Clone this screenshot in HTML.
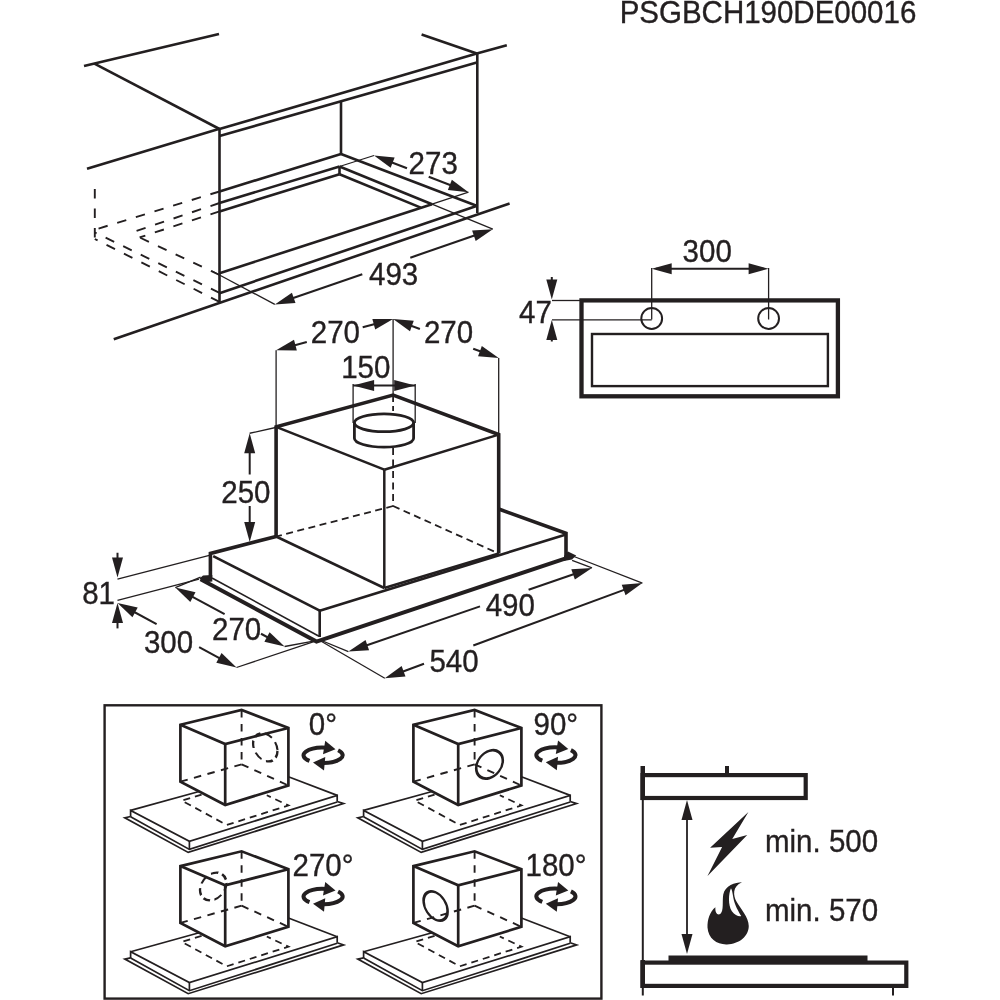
<!DOCTYPE html>
<html><head><meta charset="utf-8"><style>
html,body{margin:0;padding:0;background:#fff;}
svg{display:block;will-change:transform;}
text{font-family:"Liberation Sans",sans-serif;fill:#231f20;stroke:#231f20;stroke-width:0.35px;}
</style></head><body>
<svg width="1000" height="1000" viewBox="0 0 1000 1000" stroke="#231f20" fill="none">
<line x1="84" y1="66" x2="219" y2="34" stroke-width="2.6" stroke-linecap="butt"/>
<line x1="94.4" y1="63.6" x2="219.5" y2="129" stroke-width="2.6" stroke-linecap="butt"/>
<line x1="87" y1="168.75" x2="219.5" y2="128.75" stroke-width="2.6" stroke-linecap="butt"/>
<line x1="219.5" y1="128" x2="219.5" y2="302.5" stroke-width="2.6" stroke-linecap="butt"/>
<line x1="219.5" y1="129" x2="476.8" y2="53.6" stroke-width="2.6" stroke-linecap="butt"/>
<line x1="219.5" y1="136" x2="476.8" y2="62.5" stroke-width="2.6" stroke-linecap="butt"/>
<line x1="421.6" y1="34.4" x2="476.8" y2="53.6" stroke-width="2.6" stroke-linecap="butt"/>
<line x1="476.8" y1="53.6" x2="506.8" y2="45.2" stroke-width="2.6" stroke-linecap="butt"/>
<line x1="477.3" y1="53" x2="477.3" y2="213" stroke-width="2.6" stroke-linecap="butt"/>
<line x1="341" y1="101.5" x2="341" y2="154" stroke-width="2.6" stroke-linecap="butt"/>
<line x1="219.5" y1="191.5" x2="341" y2="154" stroke-width="2.6" stroke-linecap="butt"/>
<line x1="341" y1="154" x2="476.5" y2="205.8" stroke-width="2.6" stroke-linecap="butt"/>
<line x1="219.5" y1="203" x2="339.5" y2="166.5" stroke-width="2.6" stroke-linecap="butt"/>
<line x1="219.5" y1="211.4" x2="339.5" y2="174.3" stroke-width="2.6" stroke-linecap="butt"/>
<line x1="339.5" y1="166.5" x2="339.5" y2="174.3" stroke-width="2.6" stroke-linecap="butt"/>
<line x1="339.5" y1="166.5" x2="432" y2="204.2" stroke-width="2.6" stroke-linecap="butt"/>
<line x1="339.5" y1="174.3" x2="420.8" y2="207.6" stroke-width="2.6" stroke-linecap="butt"/>
<line x1="219.5" y1="273.2" x2="432" y2="204.2" stroke-width="2.6" stroke-linecap="butt"/>
<line x1="219.5" y1="293.2" x2="476.5" y2="206" stroke-width="2.6" stroke-linecap="butt"/>
<line x1="113.75" y1="339.25" x2="509.6" y2="203.4" stroke-width="2.6" stroke-linecap="butt"/>
<line x1="94.8" y1="189" x2="94.8" y2="239" stroke-width="1.9" stroke-dasharray="9.5 10" stroke-linecap="butt"/>
<line x1="219.5" y1="191.5" x2="94.8" y2="229.7" stroke-width="1.9" stroke-dasharray="9.5 10" stroke-linecap="butt"/>
<line x1="219.5" y1="203" x2="129.8" y2="233.2" stroke-width="1.9" stroke-dasharray="9.5 10" stroke-linecap="butt"/>
<line x1="219.5" y1="211.4" x2="139.6" y2="237.4" stroke-width="1.9" stroke-dasharray="9.5 10" stroke-linecap="butt"/>
<line x1="219.5" y1="275" x2="139.6" y2="237.4" stroke-width="1.9" stroke-dasharray="9.5 10" stroke-linecap="butt"/>
<line x1="219.5" y1="292.8" x2="94.8" y2="232.5" stroke-width="1.9" stroke-dasharray="9.5 10" stroke-linecap="butt"/>
<line x1="219.5" y1="301.8" x2="94.8" y2="239" stroke-width="1.9" stroke-dasharray="9.5 10" stroke-linecap="butt"/>
<line x1="339.5" y1="166.5" x2="374" y2="155.5" stroke-width="1.3" stroke-linecap="butt"/>
<line x1="432" y1="204.2" x2="468.5" y2="192.2" stroke-width="1.3" stroke-linecap="butt"/>
<polygon points="374,155.5 394.63,157.61 390.65,167.87" fill="#231f20" stroke="none"/>
<polygon points="468.5,192.2 447.87,190.09 451.85,179.83" fill="#231f20" stroke="none"/>
<line x1="381.46" y1="158.4" x2="407" y2="168.32" stroke-width="2.1" stroke-linecap="butt"/>
<line x1="428.7" y1="176.74" x2="461.04" y2="189.3" stroke-width="2.1" stroke-linecap="butt"/>
<text transform="translate(433.2,173.5) scale(1,1.06)" font-size="29.5" text-anchor="middle">273</text>
<line x1="212" y1="271" x2="274.8" y2="304.4" stroke-width="1.3" stroke-linecap="butt"/>
<line x1="432" y1="204.2" x2="492.8" y2="229.2" stroke-width="1.3" stroke-linecap="butt"/>
<polygon points="274.8,304.4 291.91,292.68 295.5,303.08" fill="#231f20" stroke="none"/>
<polygon points="492.8,229.2 475.69,240.92 472.1,230.52" fill="#231f20" stroke="none"/>
<line x1="282.36" y1="301.79" x2="362.3" y2="274.22" stroke-width="2.1" stroke-linecap="butt"/>
<line x1="410.3" y1="257.66" x2="485.24" y2="231.81" stroke-width="2.1" stroke-linecap="butt"/>
<text transform="translate(393.6,285.2) scale(1,1.06)" font-size="29.5" text-anchor="middle">493</text>
<polyline points="276.1,536.5 276.1,426.8 393.1,395.1 498.7,434.6 498.7,553.5" fill="none" stroke-width="3.6" stroke-linejoin="miter"/>
<line x1="276.1" y1="426.8" x2="384.3" y2="469.7" stroke-width="2.5" stroke-linecap="butt"/>
<line x1="384.3" y1="469.7" x2="498.7" y2="434.6" stroke-width="2.5" stroke-linecap="butt"/>
<line x1="384.3" y1="469.7" x2="384.3" y2="588" stroke-width="2.5" stroke-linecap="butt"/>
<line x1="276.1" y1="536.5" x2="384.3" y2="588" stroke-width="2.5" stroke-linecap="butt"/>
<line x1="384.3" y1="588" x2="498.7" y2="553.5" stroke-width="2.5" stroke-linecap="butt"/>
<line x1="393.1" y1="448" x2="393.1" y2="506" stroke-width="1.8" stroke-dasharray="7 4.5" stroke-linecap="butt"/>
<line x1="393.1" y1="506" x2="276.1" y2="536.5" stroke-width="1.8" stroke-dasharray="7 4.5" stroke-linecap="butt"/>
<line x1="393.1" y1="506" x2="498.7" y2="553.5" stroke-width="1.8" stroke-dasharray="7 4.5" stroke-linecap="butt"/>
<line x1="393.1" y1="397" x2="393.1" y2="412" stroke-width="1.8" stroke-dasharray="5 4" stroke-linecap="butt"/>
<ellipse cx="384" cy="422.8" rx="29.6" ry="8.9" fill="none" stroke-width="2.8"/>
<path d="M354.4 422.8 V438.2 A29.6 8.9 0 0 0 413.6 438.2 V422.8" fill="none" stroke-width="2.8"/>
<line x1="353.1" y1="384" x2="353.1" y2="423" stroke-width="1.3" stroke-linecap="butt"/>
<line x1="415.2" y1="384" x2="415.2" y2="423" stroke-width="1.3" stroke-linecap="butt"/>
<line x1="353.1" y1="385.4" x2="415.2" y2="385.4" stroke-width="2" stroke-linecap="butt"/>
<polygon points="353.1,385.4 374.1,379.9 374.1,390.9" fill="#231f20" stroke="none"/>
<polygon points="415.2,385.4 394.2,390.9 394.2,379.9" fill="#231f20" stroke="none"/>
<text transform="translate(365.8,377.6) scale(1,1.06)" font-size="29.5" text-anchor="middle">150</text>
<line x1="393.1" y1="319" x2="393.1" y2="395" stroke-width="1.3" stroke-linecap="butt"/>
<line x1="276.1" y1="350.3" x2="276.1" y2="426.8" stroke-width="1.3" stroke-linecap="butt"/>
<line x1="498.7" y1="358.1" x2="498.7" y2="434.6" stroke-width="1.3" stroke-linecap="butt"/>
<polygon points="276.1,350.3 294.01,339.83 296.84,350.46" fill="#231f20" stroke="none"/>
<polygon points="393.1,319.1 375.19,329.57 372.36,318.94" fill="#231f20" stroke="none"/>
<line x1="283.83" y1="348.24" x2="306.8" y2="342.11" stroke-width="2.1" stroke-linecap="butt"/>
<line x1="362.7" y1="327.21" x2="385.37" y2="321.16" stroke-width="2.1" stroke-linecap="butt"/>
<text transform="translate(335.4,342.5) scale(1,1.06)" font-size="29.5" text-anchor="middle">270</text>
<polygon points="393.1,319.1 413.77,320.87 409.96,331.19" fill="#231f20" stroke="none"/>
<polygon points="498.7,358.1 478.03,356.33 481.84,346.01" fill="#231f20" stroke="none"/>
<line x1="400.6" y1="321.87" x2="419.9" y2="329" stroke-width="2.1" stroke-linecap="butt"/>
<line x1="473.2" y1="348.68" x2="491.2" y2="355.33" stroke-width="2.1" stroke-linecap="butt"/>
<text transform="translate(448.5,342.5) scale(1,1.06)" font-size="29.5" text-anchor="middle">270</text>
<line x1="249.7" y1="433.25" x2="276.7" y2="427.25" stroke-width="1.3" stroke-linecap="butt"/>
<polygon points="249.7,433.25 255.2,453.25 244.2,453.25" fill="#231f20" stroke="none"/>
<polygon points="249.7,542 244.2,522 255.2,522" fill="#231f20" stroke="none"/>
<line x1="249.7" y1="450" x2="249.7" y2="474.5" stroke-width="2" stroke-linecap="butt"/>
<line x1="249.7" y1="506" x2="249.7" y2="525" stroke-width="2" stroke-linecap="butt"/>
<text transform="translate(245.9,503.2) scale(1,1.06)" font-size="29.5" text-anchor="middle">250</text>
<polyline points="276.1,536.5 210.4,553.4 210.4,577.2" fill="none" stroke-width="3.6" stroke-linejoin="miter"/>
<polyline points="498.7,509 566,533.2 566,557" fill="none" stroke-width="3.6" stroke-linejoin="miter"/>
<polyline points="200.6,579.3 316.5,641.6 565,558.6" fill="none" stroke-width="4" stroke-linejoin="miter"/>
<polygon points="199.5,578.5 203,575.5 212.3,575 212.3,581.5 204,582.5" fill="#231f20" stroke="none"/>
<polygon points="564,556 568,551.4 576.2,555.6 572,559.5 564,561" fill="#231f20" stroke="none"/>
<line x1="213.2" y1="556.2" x2="319.7" y2="610.65" stroke-width="2.6" stroke-linecap="butt"/>
<line x1="319.7" y1="609.5" x2="319.7" y2="637" stroke-width="2.6" stroke-linecap="butt"/>
<line x1="319.7" y1="610.65" x2="566" y2="534.5" stroke-width="2.6" stroke-linecap="butt"/>
<line x1="212" y1="578" x2="319" y2="636.2" stroke-width="1.6" stroke-linecap="butt"/>
<polygon points="117.5,577.4 112,557.4 123,557.4" fill="#231f20" stroke="none"/>
<line x1="117.5" y1="552.75" x2="117.5" y2="560" stroke-width="2" stroke-linecap="butt"/>
<polygon points="117.5,602.9 123,622.9 112,622.9" fill="#231f20" stroke="none"/>
<line x1="117.5" y1="620" x2="117.5" y2="628.4" stroke-width="2" stroke-linecap="butt"/>
<line x1="117.5" y1="579.1" x2="209.3" y2="555.3" stroke-width="1.3" stroke-linecap="butt"/>
<line x1="117.5" y1="600.4" x2="199.1" y2="579.1" stroke-width="1.3" stroke-linecap="butt"/>
<text transform="translate(98.6,603.75) scale(1,1.06)" font-size="29.5" text-anchor="middle">81</text>
<polygon points="117.5,602.9 137.7,607.61 132.45,617.28" fill="#231f20" stroke="none"/>
<line x1="124.53" y1="606.72" x2="156.6" y2="624.13" stroke-width="2.1" stroke-linecap="butt"/>
<line x1="199.1" y1="647.2" x2="229.47" y2="663.68" stroke-width="2.1" stroke-linecap="butt"/>
<text transform="translate(168.5,653.4) scale(1,1.06)" font-size="29.5" text-anchor="middle">300</text>
<polygon points="236.5,667.5 216.3,662.79 221.55,653.12" fill="#231f20" stroke="none"/>
<line x1="236.5" y1="667.5" x2="317.6" y2="640.4" stroke-width="1.3" stroke-linecap="butt"/>
<line x1="175.3" y1="587.6" x2="200.6" y2="577.2" stroke-width="1.3" stroke-linecap="butt"/>
<polygon points="175.3,587.6 195.52,592.25 190.3,601.93" fill="#231f20" stroke="none"/>
<line x1="182.34" y1="591.4" x2="224.6" y2="614.17" stroke-width="2.1" stroke-linecap="butt"/>
<line x1="261" y1="633.78" x2="277.56" y2="642.7" stroke-width="2.1" stroke-linecap="butt"/>
<text transform="translate(236.6,639.5) scale(1,1.06)" font-size="29.5" text-anchor="middle">270</text>
<polygon points="284.6,646.5 264.38,641.85 269.6,632.17" fill="#231f20" stroke="none"/>
<line x1="284.6" y1="646.5" x2="317.6" y2="640.4" stroke-width="1.3" stroke-linecap="butt"/>
<line x1="348.4" y1="651.6" x2="319" y2="639.5" stroke-width="1.3" stroke-linecap="butt"/>
<line x1="572.1" y1="560.3" x2="592" y2="567.9" stroke-width="1.3" stroke-linecap="butt"/>
<polygon points="348.4,651.6 365.53,639.9 369.1,650.3" fill="#231f20" stroke="none"/>
<polygon points="592,567.9 574.87,579.6 571.3,569.2" fill="#231f20" stroke="none"/>
<line x1="355.97" y1="649" x2="480" y2="606.38" stroke-width="2.1" stroke-linecap="butt"/>
<line x1="528.6" y1="589.68" x2="584.43" y2="570.5" stroke-width="2.1" stroke-linecap="butt"/>
<text transform="translate(510.3,616.2) scale(1,1.06)" font-size="29.5" text-anchor="middle">490</text>
<line x1="384.8" y1="678.2" x2="319" y2="640" stroke-width="1.3" stroke-linecap="butt"/>
<line x1="574" y1="556.5" x2="642.4" y2="583.1" stroke-width="1.3" stroke-linecap="butt"/>
<polygon points="384.8,678.2 401.66,666.11 405.47,676.43" fill="#231f20" stroke="none"/>
<polygon points="642.4,583.1 625.54,595.19 621.73,584.87" fill="#231f20" stroke="none"/>
<line x1="392.3" y1="675.43" x2="424" y2="663.73" stroke-width="2.1" stroke-linecap="butt"/>
<line x1="473.3" y1="645.53" x2="634.9" y2="585.87" stroke-width="2.1" stroke-linecap="butt"/>
<text transform="translate(454,672.2) scale(1,1.06)" font-size="29.5" text-anchor="middle">540</text>
<rect x="581.5" y="300.4" width="256.4" height="95.9" fill="none" stroke-width="4.3"/>
<rect x="592" y="334" width="235.9" height="52.1" fill="none" stroke-width="2.4"/>
<circle cx="651.7" cy="318.5" r="10.4" fill="none" stroke-width="2"/>
<circle cx="768.6" cy="318.5" r="10.4" fill="none" stroke-width="2"/>
<line x1="651.7" y1="268" x2="651.7" y2="319.5" stroke-width="1.3" stroke-linecap="butt"/>
<line x1="768.6" y1="268" x2="768.6" y2="319.5" stroke-width="1.3" stroke-linecap="butt"/>
<line x1="656" y1="268.7" x2="764" y2="268.7" stroke-width="2" stroke-linecap="butt"/>
<polygon points="651.7,268.7 671.7,263.2 671.7,274.2" fill="#231f20" stroke="none"/>
<polygon points="768.6,268.7 748.6,274.2 748.6,263.2" fill="#231f20" stroke="none"/>
<text transform="translate(707.2,261.5) scale(1,1.06)" font-size="29.5" text-anchor="middle">300</text>
<line x1="552" y1="300.5" x2="580" y2="300.5" stroke-width="1.3" stroke-linecap="butt"/>
<line x1="552" y1="319.8" x2="651.7" y2="319.8" stroke-width="1.3" stroke-linecap="butt"/>
<polygon points="551.8,299.5 546.3,279.5 557.3,279.5" fill="#231f20" stroke="none"/>
<line x1="551.8" y1="277" x2="551.8" y2="282" stroke-width="2" stroke-linecap="butt"/>
<polygon points="551.8,320 557.3,340 546.3,340" fill="#231f20" stroke="none"/>
<line x1="551.8" y1="337" x2="551.8" y2="341.5" stroke-width="2" stroke-linecap="butt"/>
<text transform="translate(535.5,323) scale(1,1.06)" font-size="29.5" text-anchor="middle">47</text>
<text transform="translate(768,22.7) scale(1,1.06)" font-size="29.5" text-anchor="middle">PSGBCH190DE00016</text>
<rect x="642.6" y="775.1" width="163.1" height="22.9" fill="none" stroke-width="4.2"/>
<line x1="642.75" y1="766" x2="642.75" y2="800" stroke-width="4.5" stroke-linecap="butt"/>
<line x1="727" y1="766" x2="727" y2="775" stroke-width="4" stroke-linecap="butt"/>
<line x1="642.8" y1="800" x2="642.8" y2="995.5" stroke-width="2" stroke-linecap="butt"/>
<rect x="642.6" y="962.6" width="263.7" height="23.3" fill="none" stroke-width="4.2"/>
<line x1="642.75" y1="960" x2="642.75" y2="988" stroke-width="4.5" stroke-linecap="butt"/>
<rect x="668.5" y="955.5" width="199" height="7" fill="#231f20" stroke="none"/>
<line x1="893" y1="987" x2="893" y2="995.5" stroke-width="2" stroke-linecap="butt"/>
<line x1="687" y1="815" x2="687" y2="940" stroke-width="1.8" stroke-linecap="butt"/>
<polygon points="687,800 692.5,820 681.5,820" fill="#231f20" stroke="none"/>
<polygon points="687,954 681.5,934 692.5,934" fill="#231f20" stroke="none"/>
<polygon points="748.4,812.1 710.1,847.75 722.1,847 707.5,875.9 747.25,835 732.25,839.1" fill="#231f20" stroke="none"/>
<g transform="translate(700,875) scale(0.075)"><path fill-rule="evenodd" fill="#231f20" stroke="none" d="M560 95 C470 95 330 140 310 260 C295 350 320 480 270 520 C230 540 200 500 205 430 C130 490 95 600 100 700 C110 850 230 930 360 925 C520 920 650 820 650 680 C650 560 540 450 490 360 C440 270 430 150 560 95 Z M413 176 C380 250 372 400 425 482 C465 537 520 560 550 548 C515 485 462 405 445 305 C433 235 428 195 413 176 Z"/></g>
<text transform="translate(765,851.85) scale(1,1.06)" font-size="29.5" text-anchor="start">min. 500</text>
<text transform="translate(765,921.4) scale(1,1.06)" font-size="29.5" text-anchor="start">min. 570</text>
<rect x="104.6" y="705.3" width="496.8" height="293.3" fill="none" stroke-width="2.4"/>
<g transform="translate(0,0)">
<line x1="130.6" y1="810.4" x2="199.1" y2="791.5" stroke-width="1.7" stroke-linecap="butt"/>
<line x1="288.4" y1="776.7" x2="337.2" y2="795.4" stroke-width="1.7" stroke-linecap="butt"/>
<polyline points="130.6,816.8 130.6,810.4 189.4,841.3 337.2,795.4 337.2,801.5" fill="none" stroke-width="1.7" stroke-linejoin="miter"/>
<line x1="189.4" y1="841.3" x2="189.4" y2="849.4" stroke-width="1.7" stroke-linecap="butt"/>
<polyline points="130.6,816.8 189.4,849.4 337.2,802" fill="none" stroke-width="1.7" stroke-linejoin="miter"/>
<polyline points="130.6,816.5 124.8,817.8 188.2,852.4 343.6,803.6 337.2,801.5" fill="none" stroke-width="1.7" stroke-linejoin="miter"/>
<polyline points="201.6,794.6 181.8,800.6 226.8,825 288.4,805.4 266.8,795.2" fill="none" stroke-width="1.8" stroke-dasharray="7 5" stroke-linejoin="miter"/>
<polygon points="180.4,781.6 180.4,724.8 241.6,710 288.4,728 288.4,785.5 225.2,805 180.4,781.6" fill="none" stroke-width="2.7" stroke-linejoin="miter"/>
<polyline points="180.4,724.8 225.2,744 288.4,728" fill="none" stroke-width="2.7" stroke-linejoin="miter"/>
<line x1="225.2" y1="744" x2="225.2" y2="805" stroke-width="2.7" stroke-linecap="butt"/>
<line x1="241.6" y1="710" x2="241.6" y2="764.4" stroke-width="1.9" stroke-dasharray="7.5 6.5" stroke-linecap="butt"/>
<line x1="241.6" y1="764.4" x2="180.4" y2="781.6" stroke-width="1.9" stroke-dasharray="7.5 6.5" stroke-linecap="butt"/>
<line x1="241.6" y1="764.4" x2="288.4" y2="785.5" stroke-width="1.9" stroke-dasharray="7.5 6.5" stroke-linecap="butt"/>
<ellipse transform="matrix(1,0.3,0,1,265.3,747.3)" cx="0" cy="0" rx="12.2" ry="13.6" fill="none" stroke-width="2.3" stroke-dasharray="7.5 4.5"/>
</g>
<g transform="translate(233,0)">
<line x1="130.6" y1="810.4" x2="199.1" y2="791.5" stroke-width="1.7" stroke-linecap="butt"/>
<line x1="288.4" y1="776.7" x2="337.2" y2="795.4" stroke-width="1.7" stroke-linecap="butt"/>
<polyline points="130.6,816.8 130.6,810.4 189.4,841.3 337.2,795.4 337.2,801.5" fill="none" stroke-width="1.7" stroke-linejoin="miter"/>
<line x1="189.4" y1="841.3" x2="189.4" y2="849.4" stroke-width="1.7" stroke-linecap="butt"/>
<polyline points="130.6,816.8 189.4,849.4 337.2,802" fill="none" stroke-width="1.7" stroke-linejoin="miter"/>
<polyline points="130.6,816.5 124.8,817.8 188.2,852.4 343.6,803.6 337.2,801.5" fill="none" stroke-width="1.7" stroke-linejoin="miter"/>
<polyline points="201.6,794.6 181.8,800.6 226.8,825 288.4,805.4 266.8,795.2" fill="none" stroke-width="1.8" stroke-dasharray="7 5" stroke-linejoin="miter"/>
<polygon points="180.4,781.6 180.4,724.8 241.6,710 288.4,728 288.4,785.5 225.2,805 180.4,781.6" fill="none" stroke-width="2.7" stroke-linejoin="miter"/>
<polyline points="180.4,724.8 225.2,744 288.4,728" fill="none" stroke-width="2.7" stroke-linejoin="miter"/>
<line x1="225.2" y1="744" x2="225.2" y2="805" stroke-width="2.7" stroke-linecap="butt"/>
<line x1="241.6" y1="710" x2="241.6" y2="764.4" stroke-width="1.9" stroke-dasharray="7.5 6.5" stroke-linecap="butt"/>
<line x1="241.6" y1="764.4" x2="180.4" y2="781.6" stroke-width="1.9" stroke-dasharray="7.5 6.5" stroke-linecap="butt"/>
<line x1="241.6" y1="764.4" x2="288.4" y2="785.5" stroke-width="1.9" stroke-dasharray="7.5 6.5" stroke-linecap="butt"/>
<ellipse transform="matrix(1,-0.28,0,1,256.5,764.4)" cx="0" cy="0" rx="13.3" ry="13.7" fill="none" stroke-width="2.6"/>
</g>
<g transform="translate(0,141.3)">
<line x1="130.6" y1="810.4" x2="199.1" y2="791.5" stroke-width="1.7" stroke-linecap="butt"/>
<line x1="288.4" y1="776.7" x2="337.2" y2="795.4" stroke-width="1.7" stroke-linecap="butt"/>
<polyline points="130.6,816.8 130.6,810.4 189.4,841.3 337.2,795.4 337.2,801.5" fill="none" stroke-width="1.7" stroke-linejoin="miter"/>
<line x1="189.4" y1="841.3" x2="189.4" y2="849.4" stroke-width="1.7" stroke-linecap="butt"/>
<polyline points="130.6,816.8 189.4,849.4 337.2,802" fill="none" stroke-width="1.7" stroke-linejoin="miter"/>
<polyline points="130.6,816.5 124.8,817.8 188.2,852.4 343.6,803.6 337.2,801.5" fill="none" stroke-width="1.7" stroke-linejoin="miter"/>
<polyline points="201.6,794.6 181.8,800.6 226.8,825 288.4,805.4 266.8,795.2" fill="none" stroke-width="1.8" stroke-dasharray="7 5" stroke-linejoin="miter"/>
<polygon points="180.4,781.6 180.4,724.8 241.6,710 288.4,728 288.4,785.5 225.2,805 180.4,781.6" fill="none" stroke-width="2.7" stroke-linejoin="miter"/>
<polyline points="180.4,724.8 225.2,744 288.4,728" fill="none" stroke-width="2.7" stroke-linejoin="miter"/>
<line x1="225.2" y1="744" x2="225.2" y2="805" stroke-width="2.7" stroke-linecap="butt"/>
<line x1="241.6" y1="710" x2="241.6" y2="764.4" stroke-width="1.9" stroke-dasharray="7.5 6.5" stroke-linecap="butt"/>
<line x1="241.6" y1="764.4" x2="180.4" y2="781.6" stroke-width="1.9" stroke-dasharray="7.5 6.5" stroke-linecap="butt"/>
<line x1="241.6" y1="764.4" x2="288.4" y2="785.5" stroke-width="1.9" stroke-dasharray="7.5 6.5" stroke-linecap="butt"/>
<ellipse transform="matrix(1,-0.27,0,1,213.2,745.2)" cx="0" cy="0" rx="13.2" ry="13.4" fill="none" stroke-width="2.3" stroke-dasharray="7.5 4.5"/>
</g>
<g transform="translate(233,141.3)">
<line x1="130.6" y1="810.4" x2="199.1" y2="791.5" stroke-width="1.7" stroke-linecap="butt"/>
<line x1="288.4" y1="776.7" x2="337.2" y2="795.4" stroke-width="1.7" stroke-linecap="butt"/>
<polyline points="130.6,816.8 130.6,810.4 189.4,841.3 337.2,795.4 337.2,801.5" fill="none" stroke-width="1.7" stroke-linejoin="miter"/>
<line x1="189.4" y1="841.3" x2="189.4" y2="849.4" stroke-width="1.7" stroke-linecap="butt"/>
<polyline points="130.6,816.8 189.4,849.4 337.2,802" fill="none" stroke-width="1.7" stroke-linejoin="miter"/>
<polyline points="130.6,816.5 124.8,817.8 188.2,852.4 343.6,803.6 337.2,801.5" fill="none" stroke-width="1.7" stroke-linejoin="miter"/>
<polyline points="201.6,794.6 181.8,800.6 226.8,825 288.4,805.4 266.8,795.2" fill="none" stroke-width="1.8" stroke-dasharray="7 5" stroke-linejoin="miter"/>
<polygon points="180.4,781.6 180.4,724.8 241.6,710 288.4,728 288.4,785.5 225.2,805 180.4,781.6" fill="none" stroke-width="2.7" stroke-linejoin="miter"/>
<polyline points="180.4,724.8 225.2,744 288.4,728" fill="none" stroke-width="2.7" stroke-linejoin="miter"/>
<line x1="225.2" y1="744" x2="225.2" y2="805" stroke-width="2.7" stroke-linecap="butt"/>
<line x1="241.6" y1="710" x2="241.6" y2="764.4" stroke-width="1.9" stroke-dasharray="7.5 6.5" stroke-linecap="butt"/>
<line x1="241.6" y1="764.4" x2="180.4" y2="781.6" stroke-width="1.9" stroke-dasharray="7.5 6.5" stroke-linecap="butt"/>
<line x1="241.6" y1="764.4" x2="288.4" y2="785.5" stroke-width="1.9" stroke-dasharray="7.5 6.5" stroke-linecap="butt"/>
<ellipse transform="matrix(1,0.4286,0,1,202.6,764.7)" cx="0" cy="0" rx="12" ry="13.7" fill="none" stroke-width="2.6"/>
</g>
<path d="M309.48 760.82 A19.6 7.75 0 0 1 327.51 747.7" fill="none" stroke-width="4"/>
<path d="M338.11 750.27 A19.6 7.75 0 0 1 320.71 762.94" fill="none" stroke-width="4"/>
<polygon points="335.5,749.25 325.25,740.75 323,754.25" fill="#231f20" stroke="none"/>
<polygon points="313,762.5 325.25,757 324,770.5" fill="#231f20" stroke="none"/>
<path d="M542.28 760.67 A19.6 7.75 0 0 1 560.31 747.55" fill="none" stroke-width="4"/>
<path d="M570.91 750.12 A19.6 7.75 0 0 1 553.51 762.79" fill="none" stroke-width="4"/>
<polygon points="568.3,749.1 558.05,740.6 555.8,754.1" fill="#231f20" stroke="none"/>
<polygon points="545.8,762.35 558.05,756.85 556.8,770.35" fill="#231f20" stroke="none"/>
<path d="M309.48 902.07 A19.6 7.75 0 0 1 327.51 888.95" fill="none" stroke-width="4"/>
<path d="M338.11 891.52 A19.6 7.75 0 0 1 320.71 904.19" fill="none" stroke-width="4"/>
<polygon points="335.5,890.5 325.25,882 323,895.5" fill="#231f20" stroke="none"/>
<polygon points="313,903.75 325.25,898.25 324,911.75" fill="#231f20" stroke="none"/>
<path d="M542.28 901.97 A19.6 7.75 0 0 1 560.31 888.85" fill="none" stroke-width="4"/>
<path d="M570.91 891.42 A19.6 7.75 0 0 1 553.51 904.09" fill="none" stroke-width="4"/>
<polygon points="568.3,890.4 558.05,881.9 555.8,895.4" fill="#231f20" stroke="none"/>
<polygon points="545.8,903.65 558.05,898.15 556.8,911.65" fill="#231f20" stroke="none"/>
<text transform="translate(308.8,734.7) scale(1,1.06)" font-size="29.5" text-anchor="start">0°</text>
<text transform="translate(533.5,734.6) scale(1,1.06)" font-size="29.5" text-anchor="start">90°</text>
<text transform="translate(292.5,876) scale(1,1.06)" font-size="29.5" text-anchor="start">270°</text>
<text transform="translate(525.5,876.1) scale(1,1.06)" font-size="29.5" text-anchor="start">180°</text>
</svg></body></html>
